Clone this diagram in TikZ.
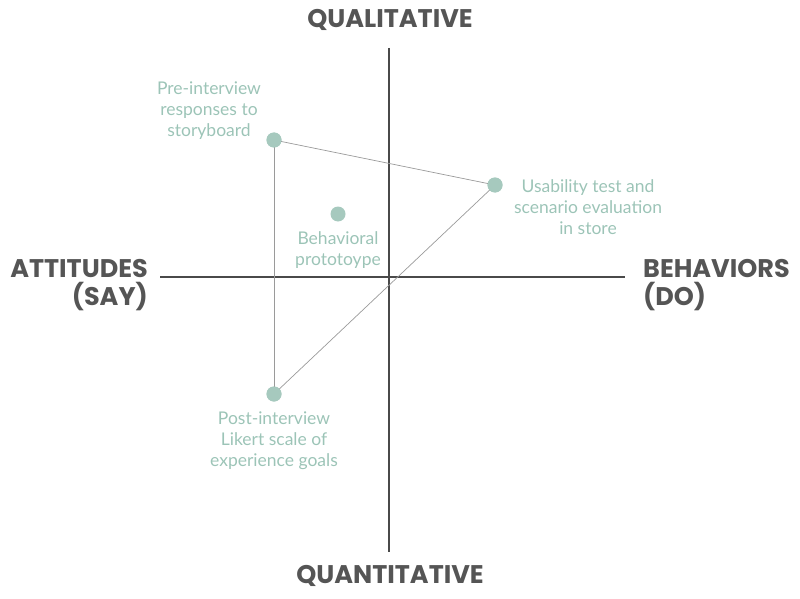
\documentclass[tikz,border=0pt]{standalone}
\usepackage{fontspec}
\setmainfont{Lato}
\newfontfamily\boldfont{Poppins}[UprightFont=* Bold]
\definecolor{teal}{HTML}{9CC4B7}
\definecolor{dotc}{HTML}{A6C9BE}
\definecolor{axisc}{HTML}{4A4A4A}
\definecolor{linec}{HTML}{9A9A9A}
\definecolor{headc}{HTML}{555555}
\begin{document}
\begin{tikzpicture}[x=1pt,y=-1pt,
  axis/.style={draw=axisc,line width=1.1pt},
  conn/.style={draw=linec,line width=0.7pt},
  dot/.style={circle,fill=dotc,minimum size=15pt,inner sep=0pt},
  lbl/.style={text=teal,font=\fontsize{17.5}{21}\selectfont,align=center,inner sep=0pt},
  head/.style={text=headc,font=\boldfont\fontsize{25.5}{28}\selectfont,inner sep=0pt}]
\useasboundingbox (0,0) rectangle (800,599);
\coordinate (vt) at (389,48);
\coordinate (vb) at (389,552);
\coordinate (hl) at (160,277);
\coordinate (hr) at (625,277);
\draw[axis] (vt) -- (vb);
\draw[axis] (hl) -- (hr);
\node[dot] (pre) at (274,140) {};
\node[dot] (use) at (495,185) {};
\node[dot] (beh) at (338,214) {};
\node[dot] (post) at (274,394) {};
\draw[conn] (pre.center) -- (use.center);
\draw[conn] (use.center) -- (post.center);
\draw[conn] (pre.center) -- (post.center);
\node[dot] at (pre) {};
\node[dot] at (use) {};
\node[dot] at (post) {};
\node[lbl] (tpre) at (209,111) {Pre-interview\\responses to\\storyboard};
\node[lbl] (tuse) at (588,207) {Usability test and\\scenario evaluation\\in store};
\node[lbl] (tbeh) at (338,250) {Behavioral\\prototoype};
\node[lbl] (tpost) at (274,441) {Post-interview\\Likert scale of\\experience goals};
\node[head] (qual) at (390,20) {QUALITATIVE};
\node[head] (quan) at (390,576) {QUANTITATIVE};
\node[head,align=right,anchor=east] (att) at (148,285) {ATTITUDES\\(SAY)};
\node[head,align=left,anchor=west] (bhv) at (643,285) {BEHAVIORS\\(DO)};
\end{tikzpicture}
\end{document}
